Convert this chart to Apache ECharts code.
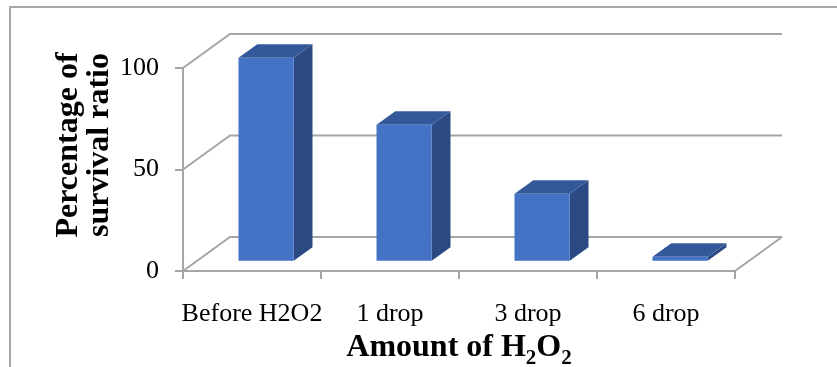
<!DOCTYPE html>
<html>
<head>
<meta charset="utf-8">
<script src="https://cdn.jsdelivr.net/npm/echarts@6/dist/echarts.min.js"></script>
<style>
  html, body { margin: 0; padding: 0; background: #fff; }
  #chart { width: 837px; height: 367px; }
</style>
</head>
<body>
<div id="chart"></div>
<script>
// Survival ratio after adding hydrogen peroxide
const categories = ['Before H2O2', '1 drop', '3 drop', '6 drop'];
const survival = [100, 67, 33, 2];
const yTicks = [0, 50, 100];

const FONT = '"Liberation Serif", "Times New Roman", serif';
const GRID_COLOR = '#a5a5a5';
const FRONT = '#4472c4';
const TOP = '#34599b';
const SIDE = '#2b4a83';

// Perspective depth of the floor (pixels, to the right and upward)
const DEPTH_X = 47, DEPTH_Y = -34;
// Slice of the floor depth taken by each column
const BAR_FRONT = 0.3, BAR_BACK = 0.7;
// Column width as share of a category band
const BAR_WIDTH = 0.4;

const chart = echarts.init(document.getElementById('chart'));

// Side wall and back wall gridlines, plus the right edge of the floor
function renderWalls(params, api) {
  const v = api.value(1);
  const bw = api.size([1, 0])[0];
  const left = api.coord([0, v]);
  const right = api.coord([categories.length - 1, v]);
  const x0 = left[0] - bw / 2;
  const x1 = right[0] + bw / 2;
  const y = left[1];
  const children = [{
    type: 'polyline',
    shape: { points: [[x0, y], [x0 + DEPTH_X, y + DEPTH_Y], [x1 + DEPTH_X, y + DEPTH_Y]] },
    style: { stroke: GRID_COLOR, lineWidth: 2, fill: null }
  }];
  if (v === 0) {
    children.push({
      type: 'line',
      shape: { x1: x1, y1: y, x2: x1 + DEPTH_X, y2: y + DEPTH_Y },
      style: { stroke: GRID_COLOR, lineWidth: 2 }
    });
  }
  return { type: 'group', children: children };
}

// Column with front, top and right faces
function renderColumn(params, api) {
  const i = api.value(0);
  const v = api.value(1);
  const bw = api.size([1, 0])[0];
  const base = api.coord([i, 0]);
  const top = api.coord([i, v]);
  const w = bw * BAR_WIDTH;
  const fx = BAR_FRONT * DEPTH_X, fy = BAR_FRONT * DEPTH_Y;
  const dx = (BAR_BACK - BAR_FRONT) * DEPTH_X, dy = (BAR_BACK - BAR_FRONT) * DEPTH_Y;
  const xl = base[0] - w / 2 + fx;
  const xr = xl + w;
  const yb = base[1] + fy;
  const yt = top[1] + fy;
  return {
    type: 'group',
    children: [
      { type: 'polygon', shape: { points: [[xr, yt], [xr + dx, yt + dy], [xr + dx, yb + dy], [xr, yb]] }, style: { fill: SIDE } },
      { type: 'polygon', shape: { points: [[xl, yt], [xr, yt], [xr + dx, yt + dy], [xl + dx, yt + dy]] }, style: { fill: TOP } },
      { type: 'rect', shape: { x: xl, y: yt, width: w, height: yb - yt }, style: { fill: FRONT } }
    ]
  };
}

chart.setOption({
  animation: false,
  backgroundColor: '#ffffff',
  grid: { left: 183, right: 102, top: 68, bottom: 96, outerBoundsMode: 'none', containLabel: false },
  xAxis: {
    type: 'category',
    data: categories,
    boundaryGap: true,
    axisLine: { lineStyle: { color: GRID_COLOR, width: 2 } },
    axisTick: { show: true, interval: 0, length: 8, lineStyle: { color: GRID_COLOR, width: 2 } },
    axisLabel: { interval: 0, color: '#000', fontFamily: FONT, fontSize: 26, margin: 30 },
    splitLine: { show: false },
    name: '{m|Amount of H}{s|2}{m|O}{s|2}',
    nameLocation: 'middle',
    nameGap: 55,
    nameTextStyle: {
      color: '#000',
      rich: {
        m: { fontFamily: FONT, fontWeight: 'bold', fontSize: 32, color: '#000', verticalAlign: 'top', lineHeight: 32 },
        s: { fontFamily: FONT, fontWeight: 'bold', fontSize: 21, color: '#000', verticalAlign: 'top', lineHeight: 21, padding: [16, 0, 0, 0] }
      }
    }
  },
  yAxis: {
    type: 'value',
    min: 0,
    max: 100,
    interval: 50,
    axisLine: { show: true, lineStyle: { color: GRID_COLOR, width: 2 } },
    axisTick: { show: true, length: 8, lineStyle: { color: GRID_COLOR, width: 2 } },
    axisLabel: { color: '#000', fontFamily: FONT, fontSize: 26, margin: 24 },
    splitLine: { show: false }
  },
  graphic: [
    {
      type: 'rect', silent: true, z: -1,
      shape: { x: 10, y: 7, width: 900, height: 400 },
      style: { fill: null, stroke: '#a6a6a6', lineWidth: 2 }
    },
    {
      type: 'text', silent: true,
      x: 84, y: 145, rotation: Math.PI / 2,
      style: {
        text: 'Percentage of\nsurvival ratio',
        fontFamily: FONT, fontWeight: 'bold', fontSize: 32, lineHeight: 31,
        fill: '#000', align: 'center', verticalAlign: 'middle'
      }
    }
  ],
  series: [
    {
      type: 'custom',
      clip: false,
      z: 1,
      renderItem: renderWalls,
      data: yTicks.map(v => [0, v])
    },
    {
      type: 'custom',
      clip: false,
      z: 3,
      renderItem: renderColumn,
      data: survival.map((v, i) => [i, v])
    }
  ]
});
</script>
</body>
</html>
